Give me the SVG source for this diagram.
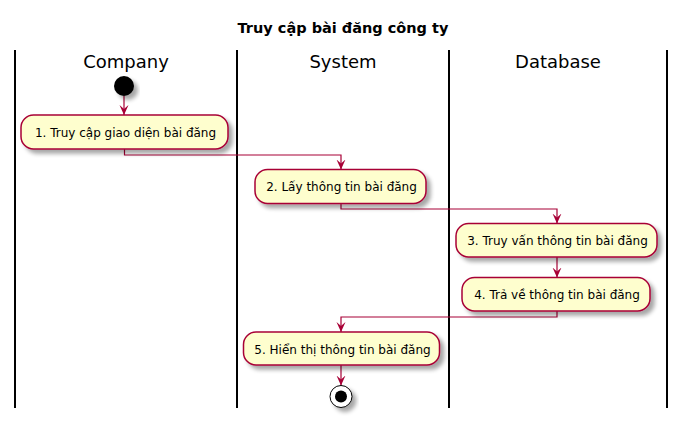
<svg xmlns="http://www.w3.org/2000/svg" width="686" height="423" viewBox="0 0 686 423">
<style>
text{font-family:"DejaVu Sans","Noto Sans",sans-serif;fill:#000}
.title{font-size:14.5px;font-weight:bold}
.lane{font-size:18px}
.act rect{fill:#FEFECE;stroke:#A80036;stroke-width:1.5}
.act text{font-size:12px;text-anchor:middle}
.sep{stroke:#000;stroke-width:2}
.conn{fill:none;stroke:#A80036;stroke-width:1.2}
</style>
<defs>
<filter id="sh" x="-20%" y="-20%" width="150%" height="160%">
<feGaussianBlur in="SourceAlpha" stdDeviation="2" result="b"/>
<feOffset in="b" dx="4" dy="4" result="o"/>
<feComponentTransfer in="o" result="s"><feFuncA type="linear" slope="0.35"/></feComponentTransfer>
<feMerge><feMergeNode in="s"/><feMergeNode in="SourceGraphic"/></feMerge>
</filter>
<marker id="ah" viewBox="0 0 10 10" refX="10" refY="5" markerWidth="10" markerHeight="10" markerUnits="userSpaceOnUse" orient="auto">
<path d="M0,0.5 L10,5 L0,9.5 L4,5 Z" fill="#A80036"/>
</marker>
</defs>
<rect width="686" height="423" fill="#fff"/>
<text class="title" x="343" y="33" text-anchor="middle">Truy cập bài đăng công ty</text>
<g id="lanes">
<line class="sep" x1="15" y1="50" x2="15" y2="408"/>
<line class="sep" x1="237" y1="50" x2="237" y2="408"/>
<line class="sep" x1="449" y1="50" x2="449" y2="408"/>
<line class="sep" x1="667" y1="50" x2="667" y2="408"/>
<text class="lane" x="126" y="68" text-anchor="middle">Company</text>
<text class="lane" x="343" y="68" text-anchor="middle">System</text>
<text class="lane" x="558" y="68" text-anchor="middle">Database</text>
</g>
<g id="connectors">
<polyline class="conn" points="124,96 124,115" marker-end="url(#ah)"/>
<polyline class="conn" points="124.5,149 124.5,155 341,155 341,169.5" marker-end="url(#ah)"/>
<polyline class="conn" points="341,203.5 341,209 557,209 557,223.5" marker-end="url(#ah)"/>
<polyline class="conn" points="557,257 557,277.5" marker-end="url(#ah)"/>
<polyline class="conn" points="557,311 557,317 341,317 341,332" marker-end="url(#ah)"/>
<polyline class="conn" points="341,365 341,385.5" marker-end="url(#ah)"/>
</g>
<g id="start"><circle cx="124" cy="86" r="10" fill="#000" filter="url(#sh)"/></g>
<g id="a1" class="act"><rect x="21" y="115" width="207" height="34" rx="12.5" filter="url(#sh)"/><text x="125.5" y="136.5">1. Truy cập giao diện bài đăng</text></g>
<g id="a2" class="act"><rect x="255" y="169.5" width="171" height="34" rx="12.5" filter="url(#sh)"/><text x="341.5" y="191">2. Lấy thông tin bài đăng</text></g>
<g id="a3" class="act"><rect x="456" y="223.5" width="201" height="33.5" rx="12.5" filter="url(#sh)"/><text x="557.5" y="245">3. Truy vấn thông tin bài đăng</text></g>
<g id="a4" class="act"><rect x="462" y="277.5" width="188" height="33.5" rx="12.5" filter="url(#sh)"/><text x="557" y="299">4. Trả về thông tin bài đăng</text></g>
<g id="a5" class="act"><rect x="243.5" y="332" width="196" height="33" rx="12.5" filter="url(#sh)"/><text x="342.5" y="353.5">5. Hiển thị thông tin bài đăng</text></g>
<g id="end" filter="url(#sh)"><circle cx="341" cy="396.5" r="11" fill="#fff" stroke="#000" stroke-width="1"/><circle cx="341" cy="396.5" r="6" fill="#000"/></g>
</svg>
